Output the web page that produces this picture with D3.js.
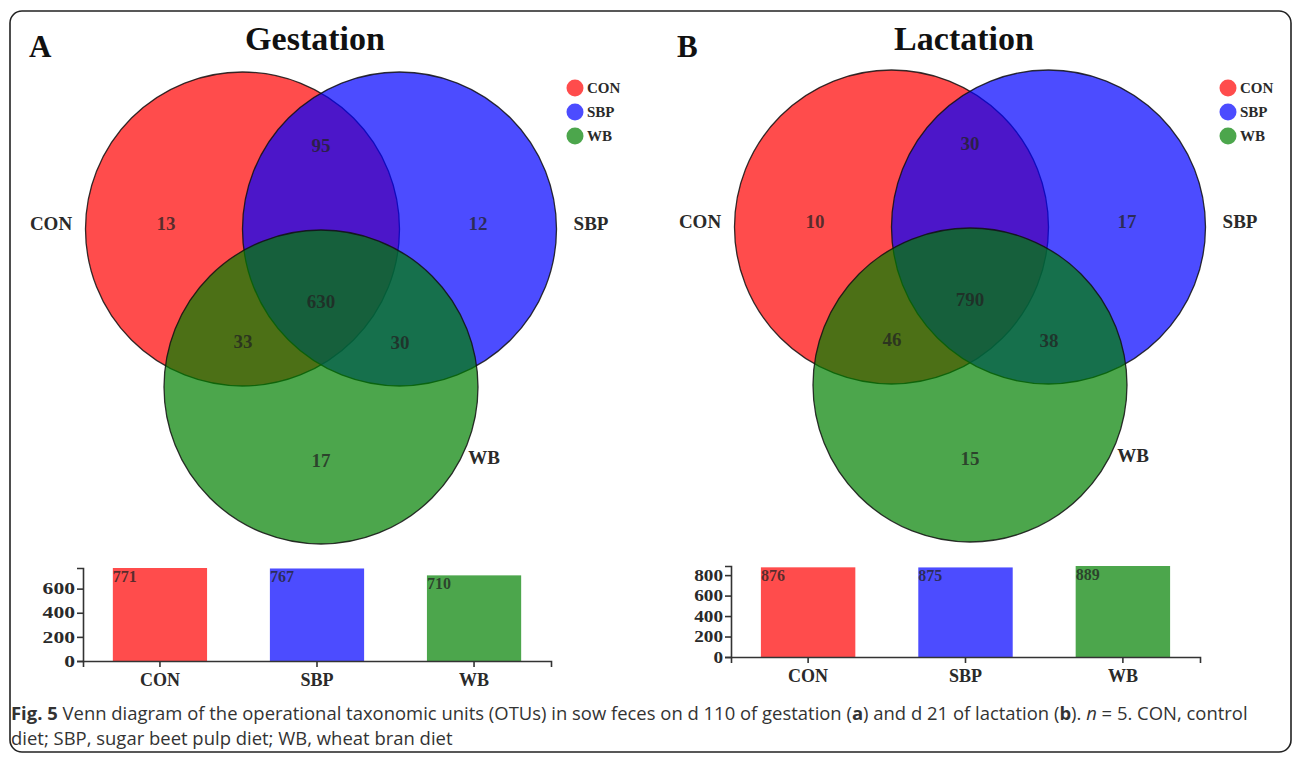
<!DOCTYPE html>
<html>
<head>
<meta charset="utf-8">
<script src="https://cdn.jsdelivr.net/npm/d3@7/dist/d3.min.js"></script>
<style>
  html, body { margin: 0; padding: 0; background: #fff; }
  svg { display: block; }
  .serif { font-family: "Liberation Serif", "Times New Roman", serif; font-weight: bold; }
</style>
</head>
<body>
<svg id="fig" width="1293" height="757"></svg>
<script>
// Groups (diets)
const groups = ["CON", "SBP", "WB"];
const groupColors = ["#ff0000", "#0000ff", "#008000"];

// Venn region counts: CON only, SBP only, WB only, CON∩SBP, CON∩WB, SBP∩WB, all three
const regionKeys = ["CON", "SBP", "WB", "CON-SBP", "CON-WB", "SBP-WB", "ALL"];
const gestationRegions = [13, 12, 17, 95, 33, 30, 630];
const lactationRegions = [10, 17, 15, 30, 46, 38, 790];

// Total OTUs per group
const gestationTotals = [771, 767, 710];
const lactationTotals = [876, 875, 889];

// Bar chart y ticks
const gestationTicks = [0, 200, 400, 600];
const lactationTicks = [0, 200, 400, 600, 800];

const svg = d3.select("#fig");

// Outer figure frame
svg.append("rect")
  .attr("x", 10).attr("y", 11)
  .attr("width", 1281).attr("height", 741)
  .attr("rx", 12).attr("ry", 12)
  .attr("fill", "none").attr("stroke", "#222").attr("stroke-width", 1.6);

function drawPanel(cfg) {
  const g = svg.append("g");

  // Panel letter and title
  g.append("text").attr("class", "serif")
    .attr("x", cfg.letterX).attr("y", 57)
    .attr("font-size", 31).attr("fill", "#111")
    .text(cfg.letter);
  g.append("text").attr("class", "serif")
    .attr("x", cfg.cx - 6).attr("y", 50)
    .attr("text-anchor", "middle")
    .attr("font-size", 34).attr("fill", "#111")
    .text(cfg.title);

  // Venn circles, red then blue then green, semi-transparent so overlaps blend
  const r = 157;
  const centers = [
    [cfg.cx - 78.5, cfg.cy],
    [cfg.cx + 78.5, cfg.cy],
    [cfg.cx, cfg.cy + 158]
  ];
  g.selectAll("circle.venn")
    .data(groups)
    .join("circle")
    .attr("class", "venn")
    .attr("cx", (d, i) => centers[i][0])
    .attr("cy", (d, i) => centers[i][1])
    .attr("r", r)
    .attr("fill", (d, i) => groupColors[i])
    .attr("fill-opacity", 0.7)
    .attr("stroke", "#111")
    .attr("stroke-opacity", 0.85)
    .attr("stroke-width", 1.3);

  // Region label anchors relative to the diagram centre
  const off = {
    "CON": [-155, -6], "SBP": [157, -6], "WB": [0, 231],
    "CON-SBP": [0, -84], "CON-WB": [-78, 112], "SBP-WB": [79, 113], "ALL": [0, 72]
  };
  g.selectAll("text.region")
    .data(regionKeys.map((k, i) => ({ k, v: cfg.regions[i] })))
    .join("text")
    .attr("class", "serif region")
    .attr("x", d => cfg.cx + off[d.k][0])
    .attr("y", d => cfg.cy + off[d.k][1])
    .attr("dy", "0.35em")
    .attr("text-anchor", "middle")
    .attr("font-size", 19)
    .attr("fill", "#222").attr("fill-opacity", 0.75)
    .text(d => d.v);

  // Set names outside the circles
  const nameOff = [[-270, -6], [270, -6], [163, 228]];
  g.selectAll("text.setname")
    .data(groups)
    .join("text")
    .attr("class", "serif setname")
    .attr("x", (d, i) => cfg.cx + nameOff[i][0])
    .attr("y", (d, i) => cfg.cy + nameOff[i][1])
    .attr("dy", "0.35em")
    .attr("text-anchor", "middle")
    .attr("font-size", 19)
    .attr("fill", "#2a2a2a")
    .text(d => d);

  // Legend
  const leg = g.append("g").attr("transform", `translate(${cfg.legendX},88)`);
  groups.forEach((name, i) => {
    leg.append("circle")
      .attr("cx", 0).attr("cy", i * 24).attr("r", 8.5)
      .attr("fill", groupColors[i]).attr("fill-opacity", 0.7);
    leg.append("text").attr("class", "serif")
      .attr("x", 12).attr("y", i * 24).attr("dy", "0.35em")
      .attr("font-size", 15).attr("fill", "#2a2a2a")
      .text(name);
  });

  // Bar chart of totals
  const x = d3.scaleBand()
    .domain(groups)
    .range([cfg.barX0, cfg.barX1])
    .paddingInner(0.4)
    .paddingOuter(0.19);
  const y = d3.scaleLinear()
    .domain([0, d3.max(cfg.totals)])
    .range([cfg.barY0, cfg.barY1]);

  const bars = g.append("g");
  bars.selectAll("rect")
    .data(groups)
    .join("rect")
    .attr("x", d => x(d))
    .attr("y", (d, i) => y(cfg.totals[i]))
    .attr("width", x.bandwidth())
    .attr("height", (d, i) => y(0) - y(cfg.totals[i]))
    .attr("fill", (d, i) => groupColors[i])
    .attr("fill-opacity", 0.7);
  bars.selectAll("text")
    .data(groups)
    .join("text")
    .attr("class", "serif")
    .attr("x", d => x(d))
    .attr("y", (d, i) => y(cfg.totals[i]) + 14)
    .attr("font-size", 16)
    .attr("fill", "#222").attr("fill-opacity", 0.75)
    .text((d, i) => cfg.totals[i]);

  const yAxis = g.append("g")
    .attr("transform", `translate(${cfg.barX0},0)`)
    .call(d3.axisLeft(y).tickValues(cfg.ticks).tickSize(6).tickSizeOuter(6).tickPadding(2));
  const xAxis = g.append("g")
    .attr("transform", `translate(0,${cfg.barY0})`)
    .call(d3.axisBottom(x).tickSize(6).tickSizeOuter(6).tickPadding(6));

  [yAxis, xAxis].forEach(ax => {
    ax.select(".domain").attr("stroke", "#333").attr("stroke-width", 1.6);
    ax.selectAll(".tick line").attr("stroke", "#333").attr("stroke-width", 1.6);
    ax.selectAll("text")
      .attr("font-family", "'Liberation Serif', 'Times New Roman', serif")
      .attr("font-weight", "bold")
      .attr("fill", "#2a2a2a");
  });
  // Wide bold tick numerals
  yAxis.selectAll("text")
    .attr("font-size", 16)
    .attr("textLength", d => String(d).length * cfg.digitW)
    .attr("lengthAdjust", "spacingAndGlyphs");
  xAxis.selectAll("text").attr("font-size", 18);
}

drawPanel({
  letter: "A", letterX: 29, title: "Gestation",
  cx: 321, cy: 229, legendX: 575,
  regions: gestationRegions, totals: gestationTotals, ticks: gestationTicks,
  barX0: 83, barX1: 551, barY0: 661, barY1: 568, digitW: 10.8
});
drawPanel({
  letter: "B", letterX: 677, title: "Lactation",
  cx: 970, cy: 227, legendX: 1228,
  regions: lactationRegions, totals: lactationTotals, ticks: lactationTicks,
  barX0: 731, barX1: 1200, barY0: 657, barY1: 566, digitW: 9.6
});

// Caption, set in a narrowed sans: each line is squeezed horizontally to its width
const cap = svg.append("g")
  .attr("font-family", "'Open Sans', 'Noto Sans', sans-serif")
  .attr("font-size", 18).attr("fill", "#333");

function captionLine(y, width) {
  const t = cap.append("text").attr("x", 0).attr("y", 0);
  return { t, fit() {
    const w = t.node().getComputedTextLength();
    t.attr("transform", `translate(11,${y}) scale(${width / w},1)`);
  } };
}

const l1 = captionLine(720, 1237);
l1.t.append("tspan").attr("font-weight", "bold").text("Fig. 5");
l1.t.append("tspan").text(" Venn diagram of the operational taxonomic units (OTUs) in sow feces on d 110 of gestation (");
l1.t.append("tspan").attr("font-weight", "bold").text("a");
l1.t.append("tspan").text(") and d 21 of lactation (");
l1.t.append("tspan").attr("font-weight", "bold").text("b");
l1.t.append("tspan").text("). ");
l1.t.append("tspan").attr("font-style", "italic").text("n");
l1.t.append("tspan").text(" = 5. CON, control");
l1.fit();

const l2 = captionLine(745, 442);
l2.t.text("diet; SBP, sugar beet pulp diet; WB, wheat bran diet");
l2.fit();
</script>
</body>
</html>
